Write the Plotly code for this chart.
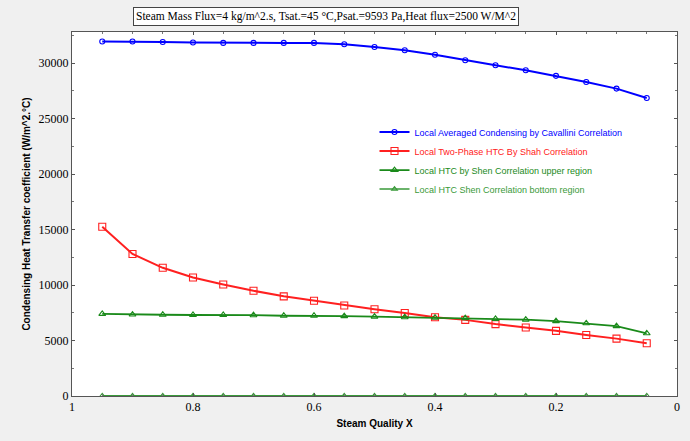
import plotly.graph_objects as go

x_quality = [0.95, 0.90, 0.85, 0.80, 0.75, 0.70, 0.65, 0.60, 0.55, 0.50,
             0.45, 0.40, 0.35, 0.30, 0.25, 0.20, 0.15, 0.10, 0.05]
cavallini = [31950, 31950, 31900, 31850, 31820, 31820, 31820, 31820, 31700, 31450,
             31150, 30750, 30250, 29800, 29350, 28850, 28300, 27700, 26850]
shah = [15250, 12800, 11550, 10680, 10050, 9480, 8980, 8580, 8160, 7820,
        7480, 7100, 6860, 6480, 6170, 5870, 5500, 5170, 4760]
shen_upper = [7400, 7340, 7320, 7300, 7300, 7280, 7230, 7230, 7200, 7150,
              7100, 7060, 7020, 6950, 6880, 6750, 6550, 6300, 5650]
shen_bottom = [20, 20, 20, 20, 20, 20, 20, 20, 20, 20,
               20, 20, 20, 20, 20, 20, 20, 20, 20]

y_ticks = [0, 5000, 10000, 15000, 20000, 25000, 30000]
x_ticks = [1, 0.8, 0.6, 0.4, 0.2, 0]

names = ["Local Averaged Condensing by Cavallini Correlation",
         "Local Two-Phase HTC By Shah Correlation",
         "Local HTC by Shen Correlation upper region",
         "Local HTC Shen Correlation bottom region"]

title_text = "Steam Mass Flux=4 kg/m^2.s, Tsat.=45 °C,Psat.=9593 Pa,Heat flux=2500 W/M^2"

fig = go.Figure()
series = [
    (cavallini, names[0], "#0000ff", "circle-open", 2.0, 5),
    (shah, names[1], "#ff2020", "square-open", 2.0, 7),
    (shen_upper, names[2], "#1a8a1a", "triangle-up-open", 1.8, 6),
    (shen_bottom, names[3], "#3a9a3a", "triangle-up-open", 1.4, 5),
]
for ys, nm, col, sym, lw, ms in series:
    fig.add_trace(go.Scatter(
        x=x_quality, y=ys, mode="lines+markers",
        name=f"<span style='color:{col}'>{nm}</span>",
        line=dict(color=col, width=lw),
        marker=dict(symbol=sym, size=ms, color=col, line=dict(width=1.1, color=col)),
    ))

fig.update_layout(
    width=690, height=441,
    margin=dict(l=72, r=10, t=32, b=45),
    paper_bgcolor="#f0f0f0", plot_bgcolor="#ffffff",
    font=dict(family="Liberation Serif, Times New Roman, serif", size=12, color="#000000"),
    showlegend=True,
    legend=dict(x=0.5, y=0.765, xanchor="left", yanchor="top",
                bgcolor="rgba(0,0,0,0)", borderwidth=0,
                font=dict(family="Liberation Sans, Arial, sans-serif", size=9),
                itemwidth=30, tracegroupgap=0),
    annotations=[dict(
        text=title_text, xref="paper", yref="paper", x=0.1, y=1.0,
        xanchor="left", yanchor="bottom", yshift=6, showarrow=False,
        font=dict(family="Liberation Serif, Times New Roman, serif", size=11.5),
        bordercolor="#444444", borderwidth=1, borderpad=2, bgcolor="#ffffff")],
)
fig.update_xaxes(
    range=[1.0, 0.0], tickvals=x_ticks, ticktext=[f"{v:g}" for v in x_ticks],
    showgrid=False, zeroline=False, showline=True, linecolor="#555555", linewidth=1,
    mirror="ticks", ticks="inside", ticklen=3, tickcolor="#555555",
    minor=dict(dtick=0.05, ticks="inside", ticklen=2, tickcolor="#777777"),
    title=dict(text="<b>Steam Quality X</b>", standoff=6,
               font=dict(family="Liberation Sans, Arial, sans-serif", size=10)),
)
fig.update_yaxes(
    range=[0, 32800], tickvals=y_ticks, ticktext=[str(v) for v in y_ticks],
    showgrid=False, zeroline=False, showline=True, linecolor="#555555", linewidth=1,
    mirror="ticks", ticks="inside", ticklen=3, tickcolor="#555555",
    minor=dict(dtick=2500, ticks="inside", ticklen=2, tickcolor="#777777"),
    title=dict(text="<b>Condensing Heat Transfer coefficient (W/m^2.°C)</b>", standoff=6,
               font=dict(family="Liberation Sans, Arial, sans-serif", size=10)),
)
fig.write_html("out.html")
